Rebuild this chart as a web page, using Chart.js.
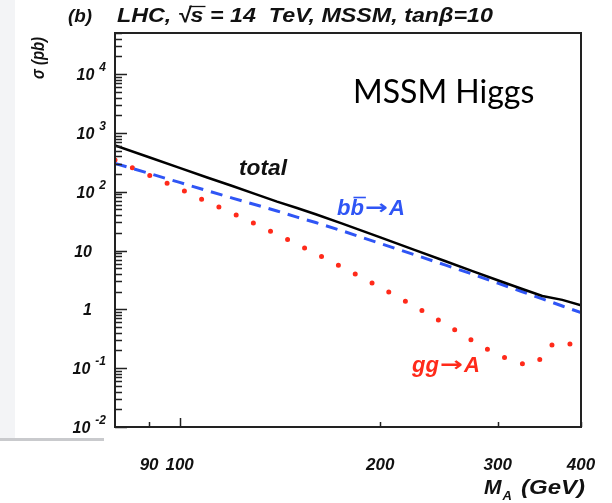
<!DOCTYPE html>
<html>
<head>
<meta charset="utf-8">
<script src="https://cdn.jsdelivr.net/npm/chart.js@4.4.0/dist/chart.umd.min.js"></script>
<style>
  html, body { margin: 0; padding: 0; background: #fff; }
  #wrap { position: relative; width: 612px; height: 503px; }
  #strip { position: absolute; left: 0; top: 0; width: 15px; height: 438px; background: #f3f4f6; }
  #rule { position: absolute; left: 0; top: 438px; width: 104px; height: 3px; background: #c9cacd; }
  canvas { position: absolute; left: 0; top: 0; }
</style>
</head>
<body>
<div id="wrap">
  <div id="strip"></div>
  <div id="rule"></div>
  <canvas id="chart" width="612" height="503"></canvas>
</div>
<script>
// M_A in GeV
const massGeV = [80, 90, 100, 110, 120, 130, 140, 150, 160, 175, 200, 225, 250, 275, 300, 325, 350, 375, 400];
// cross sections in pb
const sigmaTotal = [611, 385, 255, 175, 125, 91, 68, 53, 41.5, 29, 16.8, 10.3, 6.65, 4.48, 3.13, 2.26, 1.69, 1.45, 1.17];
const sigmaBbA = [303, 205, 144, 104, 78, 60, 47, 37, 30, 21.8, 13.2, 8.5, 5.7, 3.97, 2.8, 2.03, 1.51, 1.14, 0.88];
const massGg = [80, 90, 100, 110, 120, 130, 140, 150, 160, 175, 200, 225, 250, 275, 300, 325, 335, 345, 350, 360, 370, 385, 400];
const sigmaGgA = [345, 191, 112, 67.6, 43.3, 28.2, 18.9, 12.8, 8.88, 5.24, 2.37, 1.13, 0.566, 0.294, 0.171, 0.121, 0.113, 0.136, 0.15, 0.234, 0.278, 0.259, 0.248];

const xTickValues = [90, 100, 200, 300, 400];
const xTickLabels = ['90', '100', '200', '300', '400'];
const yDecades = [-2, -1, 0, 1, 2, 3, 4];

const pts = (xs, ys) => xs.map((x, i) => ({ x: x, y: ys[i] }));

const ROOT_FONT = '"Liberation Sans", Arial, sans-serif';
const ARROW_FONT = '"DejaVu Sans", sans-serif';
const BLUE = '#2f55f5';
const RED = '#ff2a1a';

function txt(ctx, str, x, y, size, color, align, w, family) {
  ctx.save();
  ctx.font = 'italic bold ' + size + 'px ' + (family || ROOT_FONT);
  ctx.fillStyle = color;
  ctx.textBaseline = 'alphabetic';
  const m = ctx.measureText(str).width;
  const sx = w ? w / m : 1;
  let x0 = x;
  if (align === 'center') x0 = x - m * sx / 2;
  if (align === 'right') x0 = x - m * sx;
  ctx.translate(x0, y);
  ctx.scale(sx, 1);
  ctx.fillText(str, 0, 0);
  ctx.restore();
  return { left: x0, sx: sx, width: m * sx, right: x0 + m * sx };
}

// "xx -> A" style label with a long arrow
function reaction(ctx, from, x, y, color, arrowW) {
  const a = txt(ctx, from, x, y, 22, color, 'left');
  const r = txt(ctx, '\u2192', a.right + 1, y - 1, 20, color, 'left', arrowW, ARROW_FONT);
  txt(ctx, 'A', r.right + 1, y, 22, color, 'left');
  return a;
}

const rootFrame = {
  id: 'rootFrame',
  afterDraw(chart) {
    const ctx = chart.ctx;
    const a = chart.chartArea;
    const xs = chart.scales.x, ys = chart.scales.y;
    ctx.save();
    ctx.strokeStyle = '#222';
    ctx.lineWidth = 2;
    ctx.strokeRect(a.left, a.top, a.right - a.left, a.bottom - a.top);

    // y ticks (inward)
    ctx.lineWidth = 1.5;
    ctx.beginPath();
    yDecades.forEach(d => {
      for (let k = 1; k <= 9; k++) {
        const v = k * Math.pow(10, d);
        if (v > ys.max) break;
        const py = Math.round(ys.getPixelForValue(v)) + 0.5;
        ctx.moveTo(a.left, py);
        ctx.lineTo(a.left + (k === 1 ? 12 : 7), py);
      }
    });
    // x ticks (inward)
    xTickValues.forEach(v => {
      const px = Math.round(xs.getPixelForValue(v)) + 0.5;
      const major = Math.abs(Math.log10(v) % 1) < 1e-9;
      ctx.moveTo(px, a.bottom);
      ctx.lineTo(px, a.bottom - (major ? 9 : 5));
    });
    ctx.stroke();
    ctx.restore();

    // y tick labels
    yDecades.forEach(d => {
      const py = ys.getPixelForValue(Math.pow(10, d));
      if (d === 0 || d === 1) {
        txt(ctx, d === 0 ? '1' : '10', 92, py + 6, 16, '#111', 'right');
      } else {
        const e = txt(ctx, String(d), 106, py - 3, 12, '#111', 'right');
        txt(ctx, '10', e.left - 5, py + 6, 16, '#111', 'right');
      }
    });
    // x tick labels
    xTickValues.forEach((v, i) => {
      txt(ctx, xTickLabels[i], xs.getPixelForValue(v), 470, 17, '#111', 'center');
    });

    // axis titles
    const m = txt(ctx, 'M', 484, 494, 21, '#111', 'left');
    txt(ctx, 'A', m.right + 1, 500, 13, '#111', 'left');
    txt(ctx, '(GeV)', 521, 494, 21, '#111', 'left', 64);
    ctx.save();
    ctx.translate(44, 58);
    ctx.rotate(-Math.PI / 2);
    txt(ctx, '\u03c3 (pb)', 0, 0, 19, '#111', 'center', 42);
    ctx.restore();

    // title
    txt(ctx, '(b)', 68, 22, 19, '#111', 'left', 24);
    const pre = 'LHC, \u221a';
    const t = txt(ctx, 'LHC, \u221as = 14  TeV, MSSM, tan\u03b2=10', 117, 22, 21, '#111', 'left', 376);
    ctx.save();
    ctx.font = 'italic bold 21px ' + ROOT_FONT;
    const sL = t.left + ctx.measureText(pre).width * t.sx;
    const sW = ctx.measureText('s').width * t.sx;
    ctx.strokeStyle = '#111';
    ctx.lineWidth = 1.3;
    ctx.beginPath();
    ctx.moveTo(sL - 1, 6.5);
    ctx.lineTo(sL + sW + 2, 6.5);
    ctx.stroke();
    ctx.restore();

    // curve labels
    txt(ctx, 'total', 239, 175, 22, '#111', 'left', 48);
    const b = reaction(ctx, 'bb', 337, 215, BLUE, 23);
    ctx.save();
    ctx.font = 'italic bold 22px ' + ROOT_FONT;
    const bw = ctx.measureText('b').width;
    ctx.strokeStyle = BLUE;
    ctx.lineWidth = 1.6;
    ctx.beginPath();
    ctx.moveTo(b.left + bw + 3, 197.5);
    ctx.lineTo(b.left + 2 * bw + 2, 197.5);
    ctx.stroke();
    ctx.restore();
    reaction(ctx, 'gg', 412, 372, RED, 23);

    // slide annotation
    ctx.save();
    ctx.font = '32px Lato, "Open Sans", sans-serif';
    ctx.fillStyle = '#000';
    ctx.fillText('MSSM Higgs', 353, 103);
    ctx.restore();
  }
};

new Chart(document.getElementById('chart').getContext('2d'), {
  type: 'line',
  data: {
    datasets: [
      {
        label: 'total',
        data: pts(massGeV, sigmaTotal),
        borderColor: '#000',
        borderWidth: 2.5,
        pointRadius: 0,
        tension: 0
      },
      {
        label: 'bb\u0304\u2192A',
        data: pts(massGeV, sigmaBbA),
        borderColor: BLUE,
        borderWidth: 3,
        borderDash: [12, 8],
        pointRadius: 0,
        tension: 0
      },
      {
        label: 'gg\u2192A',
        data: pts(massGg, sigmaGgA),
        borderColor: RED,
        borderWidth: 5,
        borderDash: [0, 19],
        borderCapStyle: 'round',
        pointRadius: 0,
        cubicInterpolationMode: 'monotone'
      }
    ]
  },
  options: {
    responsive: false,
    animation: false,
    layout: { padding: { left: 107, right: 31, top: 33, bottom: 68 } },
    plugins: { legend: { display: false }, tooltip: { enabled: false } },
    scales: {
      x: {
        type: 'logarithmic',
        min: 80,
        max: 400,
        grid: { display: false },
        ticks: { display: false },
        border: { display: false }
      },
      y: {
        type: 'logarithmic',
        min: 0.01,
        max: 50000,
        grid: { display: false },
        ticks: { display: false },
        border: { display: false }
      }
    }
  },
  plugins: [rootFrame]
});
</script>
</body>
</html>
